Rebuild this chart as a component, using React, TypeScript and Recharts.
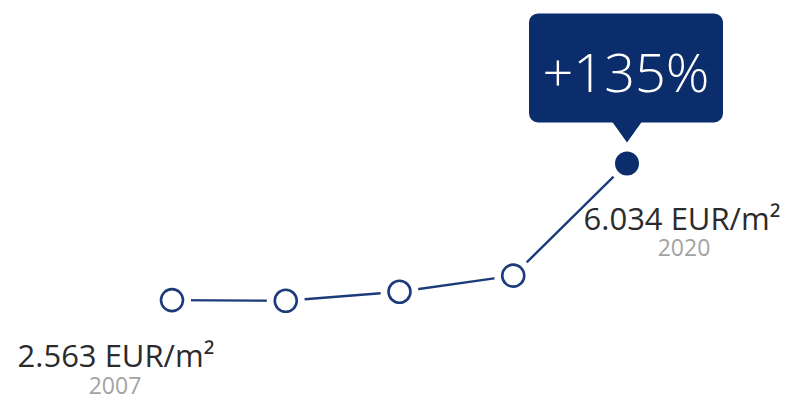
import React from "react";
import { LineChart, Line, XAxis, YAxis, LabelList } from "recharts";

// price per m² (EUR), 2007 -> 2020
const years = ["2007", "", "", "", "2020"];
const prices = [2563, 2545, 2775, 3183, 6034];
const priceLabels = ["2.563 EUR/m²", "", "", "", "6.034 EUR/m²"];
const growthLabel = "+135%";

const data = years.map((year, i) => ({
  year,
  price: prices[i],
  label: priceLabels[i],
}));

const NAVY = "#1c3b7a";
const BOX = "#0c2d6b";

function Dot(props: any) {
  const { cx, cy, index } = props;
  const last = index === data.length - 1;
  return (
    <g key={`dot-${index}`}>
      <circle cx={cx} cy={cy} r={19} fill="#ffffff" />
      {last ? (
        <circle cx={cx} cy={cy} r={12} fill={BOX} />
      ) : (
        <circle cx={cx} cy={cy} r={11} fill="#ffffff" stroke={NAVY} strokeWidth={2.6} />
      )}
    </g>
  );
}

function PriceLabel(props: any) {
  const { x, y, index } = props;
  const d = data[index];
  if (!d || !d.label) return null;
  const first = index === 0;
  const dx = first ? -56 : 55;
  return (
    <g>
      <text
        x={x + dx}
        y={y + 67}
        textAnchor="middle"
        fontSize={31}
        fill="#2b2b2b"
        fontFamily="'Open Sans', sans-serif"
      >
        {d.label}
      </text>
      <text
        x={x + dx + (first ? -1 : 2)}
        y={y + (first ? 94 : 93)}
        textAnchor="middle"
        fontSize={23}
        fill="#a3a3a3"
        fontFamily="'Open Sans', sans-serif"
      >
        {d.year}
      </text>
      {!first && (
        <g>
          <rect x={x - 98} y={y - 150} width={194} height={109} rx={9} fill={BOX} />
          <path
            d={`M${x - 15},${y - 42} L${x + 15},${y - 42} L${x},${y - 21} Z`}
            fill={BOX}
          />
          <text
            x={x - 1}
            y={y - 71}
            textAnchor="middle"
            fontSize={54}
            fontWeight={300}
            fill="#ffffff"
            fontFamily="'Open Sans', sans-serif"
          >
            {growthLabel}
          </text>
        </g>
      )}
    </g>
  );
}

export default function App() {
  return (
    <div style={{ position: "absolute", left: 0, top: 0, background: "#ffffff" }}>
      <LineChart
        width={792}
        height={406}
        data={data}
        margin={{ top: 86, right: 165, bottom: 5, left: 172 }}
      >
        <XAxis dataKey="year" hide />
        <YAxis hide domain={[0, 8000]} />
        <Line
          type="linear"
          dataKey="price"
          stroke={NAVY}
          strokeWidth={2.4}
          dot={<Dot />}
          activeDot={false}
          isAnimationActive={false}
        >
          <LabelList dataKey="label" content={<PriceLabel />} />
        </Line>
      </LineChart>
    </div>
  );
}
